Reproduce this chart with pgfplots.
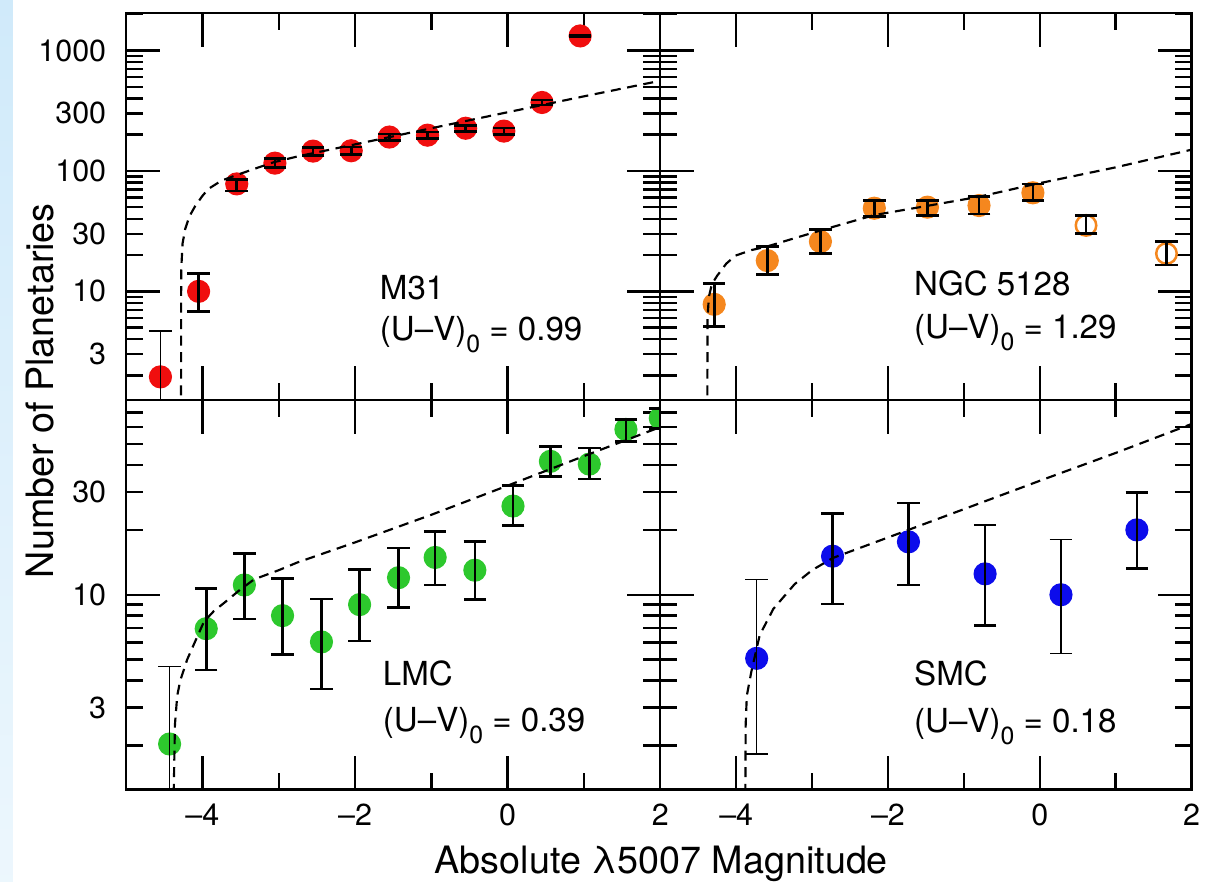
\documentclass[border=0pt]{standalone}
\usepackage{fontspec}
\setmainfont{TeX Gyre Heros}
\usepackage{pgfplots}
\usepackage{pgfplotstable}
\pgfplotsset{compat=1.18}

\definecolor{pnred}{RGB}{240,14,14}
\definecolor{pnorange}{RGB}{245,135,30}
\definecolor{pngreen}{RGB}{45,200,45}
\definecolor{pnblue}{RGB}{12,12,235}
\definecolor{slide}{RGB}{208,234,250}

% x = magnitude, y = number, ep/em = error bar up/down
\pgfplotstableread{
x y ep em
-4.05 10.0 4.1 3.2
-3.55 78 7 10
-3.05 116 10 9
-2.55 146 11 11
-2.05 147 11 11
-1.55 191 12 12
-1.05 198 12 12
-0.55 226 13 13
-0.05 214 13 13
0.45 370 18 18
0.95 1320 25 25
}\mthree
\pgfplotstableread{
x y ep em
-4.55 1.95 2.75 0.95
}\mthreelow

\pgfplotstableread{
x y ep em
-4.29 7.8 3.8 2.7
-3.59 18.0 5.6 4.2
-2.89 25.9 6.6 5.3
-2.18 49 8 7.4
-1.48 50 7 7.3
-0.80 51.6 9.4 7.6
-0.09 65.8 12.2 8.8
}\ngc
\pgfplotstableread{
x y ep em
0.61 35.3 7.4 5.2
1.67 20.6 5.4 4.1
}\ngcopen

\pgfplotstableread{
x y ep em
-3.95 6.96 3.74 2.48
-3.45 11.1 4.4 3.37
-2.95 8.0 3.9 2.71
-2.44 6.04 3.51 2.38
-1.94 9.0 4.1 2.9
-1.43 12.0 4.5 3.3
-0.95 14.9 4.8 3.8
-0.43 13.0 4.7 3.5
0.07 25.8 6.4 4.9
0.56 41.6 7.0 6.1
1.07 40.4 7.5 5.9
1.55 58.5 6.5 7.2
2.0 66 7 7
}\lmc
\pgfplotstableread{
x y ep em
-4.43 2.03 2.61 1.03
}\lmclow

\pgfplotstableread{
x y ep em
-2.73 15.1 8.8 6.04
-1.73 17.6 9.1 6.5
-0.72 12.5 8.6 5.3
1.28 20.0 9.8 6.8
}\smc
\pgfplotstableread{
x y ep em
-3.73 5.07 6.73 3.25
0.28 10.0 8.0 4.65
}\smcthin

\pgfplotsset{
  pnlf/.style={
    scale only axis, xmin=-5, xmax=2,
    axis line style={line width=0.7pt},
    tick style={black, line width=0.7pt},
    tick align=inside,
    major tick length=10.2pt, minor tick length=5.1pt,
    xtick={-4,-2,0,2}, minor xtick={-3,-1,1},
    xtick pos=both, ytick pos=both,
    xticklabel pos=lower, yticklabel pos=left,
    ticklabel style={font=\fontsize{9.2}{10}\selectfont},
    yticklabel style={xshift=-2.5pt},
    xticklabel style={yshift=-1pt},
    extra y tick style={major tick length=5.1pt},
    clip marker paths=true,
  },
  dots/.style={only marks, mark=*, mark size=3.3pt, mark options={draw=#1, fill=#1}},
  bars/.style={draw=none, mark=none,
    error bars/y dir=both, error bars/y explicit,
    error bars/error bar style={draw=black, solid, line width=#1},
    error bars/error mark options={draw=black, solid, rotate=90, mark size=3.4pt, line width=#1}},
  fit/.style={black, line width=0.65pt, dash pattern=on 3pt off 2pt},
}

\begin{document}
\begin{tikzpicture}
\begin{scope}[x=0.3pt, y=-0.3pt]
\path (0,0) rectangle (1211,888);
\shade[top color=slide, bottom color=slide!40!white] (0,0) rectangle (13,888);
\end{scope}

% ---- M31 ----
\begin{axis}[pnlf, ymode=log, at={(38.1pt,-3.9pt)}, anchor=north west,
  width=161.4pt, height=117pt, ymin=1.25, ymax=2050,
  ytick={10,100,1000}, yticklabels={10,100,1000},
  extra y ticks={3,30,300}, extra y tick labels={3,30,300},
  minor ytick={2,4,5,6,7,8,9,20,40,50,60,70,80,90,200,400,500,600,700,800,900,2000},
  xticklabels={}]
\addplot[dots=pnred] table[x=x, y=y] {\mthree};
\addplot[dots=pnred] table[x=x, y=y] {\mthreelow};
\addplot[fit] coordinates {(-4.28,1) (-4.278,15) (-4.26,25) (-4.225,33) (-4.17,42)
  (-4.095,51) (-4.0,62) (-3.92,71) (-3.75,83) (-3.58,91) (-3.3,105) (-3.065,118)
  (-2.75,132) (-2,166) (-1,226) (0,307) (1,416) (2,560)};
\addplot[bars=0.8pt] table[x=x, y=y, y error plus=ep, y error minus=em] {\mthree};
\addplot[bars=0.45pt] table[x=x, y=y, y error plus=ep, y error minus=em] {\mthreelow};
\end{axis}

% ---- NGC 5128 ----
\begin{axis}[pnlf, ymode=log, at={(199.5pt,-3.9pt)}, anchor=north west,
  width=160.5pt, height=117pt, ymin=1.25, ymax=2050,
  ytick={10,100,1000}, yticklabels={},
  extra y ticks={3,30,300}, extra y tick labels={},
  minor ytick={2,4,5,6,7,8,9,20,40,50,60,70,80,90,200,400,500,600,700,800,900,2000},
  xticklabels={}]
\addplot[dots=pnorange] table[x=x, y=y] {\ngc};
\addplot[only marks, mark=*, mark size=3.1pt,
  mark options={draw=pnorange, fill=white, line width=0.75pt}] table[x=x, y=y] {\ngcopen};
\addplot[fit] coordinates {(-4.38,1) (-4.378,6) (-4.36,9) (-4.32,11.5) (-4.25,13.5)
  (-4.13,17) (-4.01,19.8) (-3.8,22) (-3.59,23.6) (-3.2,28) (-2.89,32) (-2.18,43)
  (-1.5,51) (-0.8,61) (-0.09,77) (1,107) (2,150)};
\addplot[bars=0.8pt] table[x=x, y=y, y error plus=ep, y error minus=em] {\ngc};
\addplot[bars=0.8pt] table[x=x, y=y, y error plus=ep, y error minus=em] {\ngcopen};
\end{axis}

% ---- LMC ----
\begin{axis}[pnlf, ymode=log, at={(38.1pt,-120.9pt)}, anchor=north west,
  width=161.4pt, height=117.6pt, ymin=1.25, ymax=80,
  ytick={10}, yticklabels={10},
  extra y ticks={3,30}, extra y tick labels={3,30},
  minor ytick={2,4,5,6,7,8,9,20,40,50,60,70},
  xticklabels={–4,–2,0,2}]
\addplot[dots=pngreen] table[x=x, y=y] {\lmc};
\addplot[dots=pngreen] table[x=x, y=y] {\lmclow};
\addplot[fit] coordinates {(-4.38,1) (-4.36,2.5) (-4.33,3.4) (-4.29,4.0) (-4.2,5.0)
  (-4.12,5.8) (-3.98,7.5) (-3.85,8.4) (-3.71,9.2) (-3.5,10.6) (-3.32,11.8) (-3.0,13)
  (-2.76,14.1) (-2,17.5) (-1,23.5) (0.01,32.2) (1,44) (2,60)};
\addplot[bars=0.8pt] table[x=x, y=y, y error plus=ep, y error minus=em] {\lmc};
\addplot[bars=0.45pt] table[x=x, y=y, y error plus=ep, y error minus=em] {\lmclow};
\end{axis}

% ---- SMC ----
\begin{axis}[pnlf, ymode=log, at={(199.5pt,-120.9pt)}, anchor=north west,
  width=160.5pt, height=117.6pt, ymin=1.25, ymax=80,
  ytick={10}, yticklabels={},
  extra y ticks={3,30}, extra y tick labels={},
  minor ytick={2,4,5,6,7,8,9,20,40,50,60,70},
  xticklabels={–4,–2,0,2}]
\addplot[dots=pnblue] table[x=x, y=y] {\smc};
\addplot[dots=pnblue] table[x=x, y=y] {\smcthin};
\addplot[fit] coordinates {(-3.88,1) (-3.875,2.5) (-3.86,3.4) (-3.80,4.4) (-3.69,6.5)
  (-3.51,8.6) (-3.23,11.2) (-3.0,13) (-2.73,14.8) (-1.73,20) (0.02,34) (1,45.5) (2,62)};
\addplot[bars=0.8pt] table[x=x, y=y, y error plus=ep, y error minus=em] {\smc};
\addplot[bars=0.45pt] table[x=x, y=y, y error plus=ep, y error minus=em] {\smcthin};
\end{axis}

\begin{scope}[x=0.3pt, y=-0.3pt]
\node[rotate=90, font=\fontsize{11.4}{13}\selectfont] at (40,393.5) {Number of Planetaries};
\node[anchor=base, font=\fontsize{11.4}{13}\selectfont] at (666,880) {Absolute λ5007 Magnitude};
\begin{scope}[every node/.style={anchor=base west, inner sep=0pt, font=\fontsize{10}{12}\selectfont}]
\node at (382,302) {M31};
\node at (382,343) {(U–V)\raisebox{-0.7ex}{\fontsize{7.5}{8}\selectfont 0} = 0.99};
\node at (920,298) {NGC 5128};
\node at (920,341) {(U–V)\raisebox{-0.7ex}{\fontsize{7.5}{8}\selectfont 0} = 1.29};
\node at (385,690) {LMC};
\node at (385,737) {(U–V)\raisebox{-0.7ex}{\fontsize{7.5}{8}\selectfont 0} = 0.39};
\node at (920,690) {SMC};
\node at (920,738) {(U–V)\raisebox{-0.7ex}{\fontsize{7.5}{8}\selectfont 0} = 0.18};
\end{scope}
\end{scope}
\end{tikzpicture}
\end{document}
